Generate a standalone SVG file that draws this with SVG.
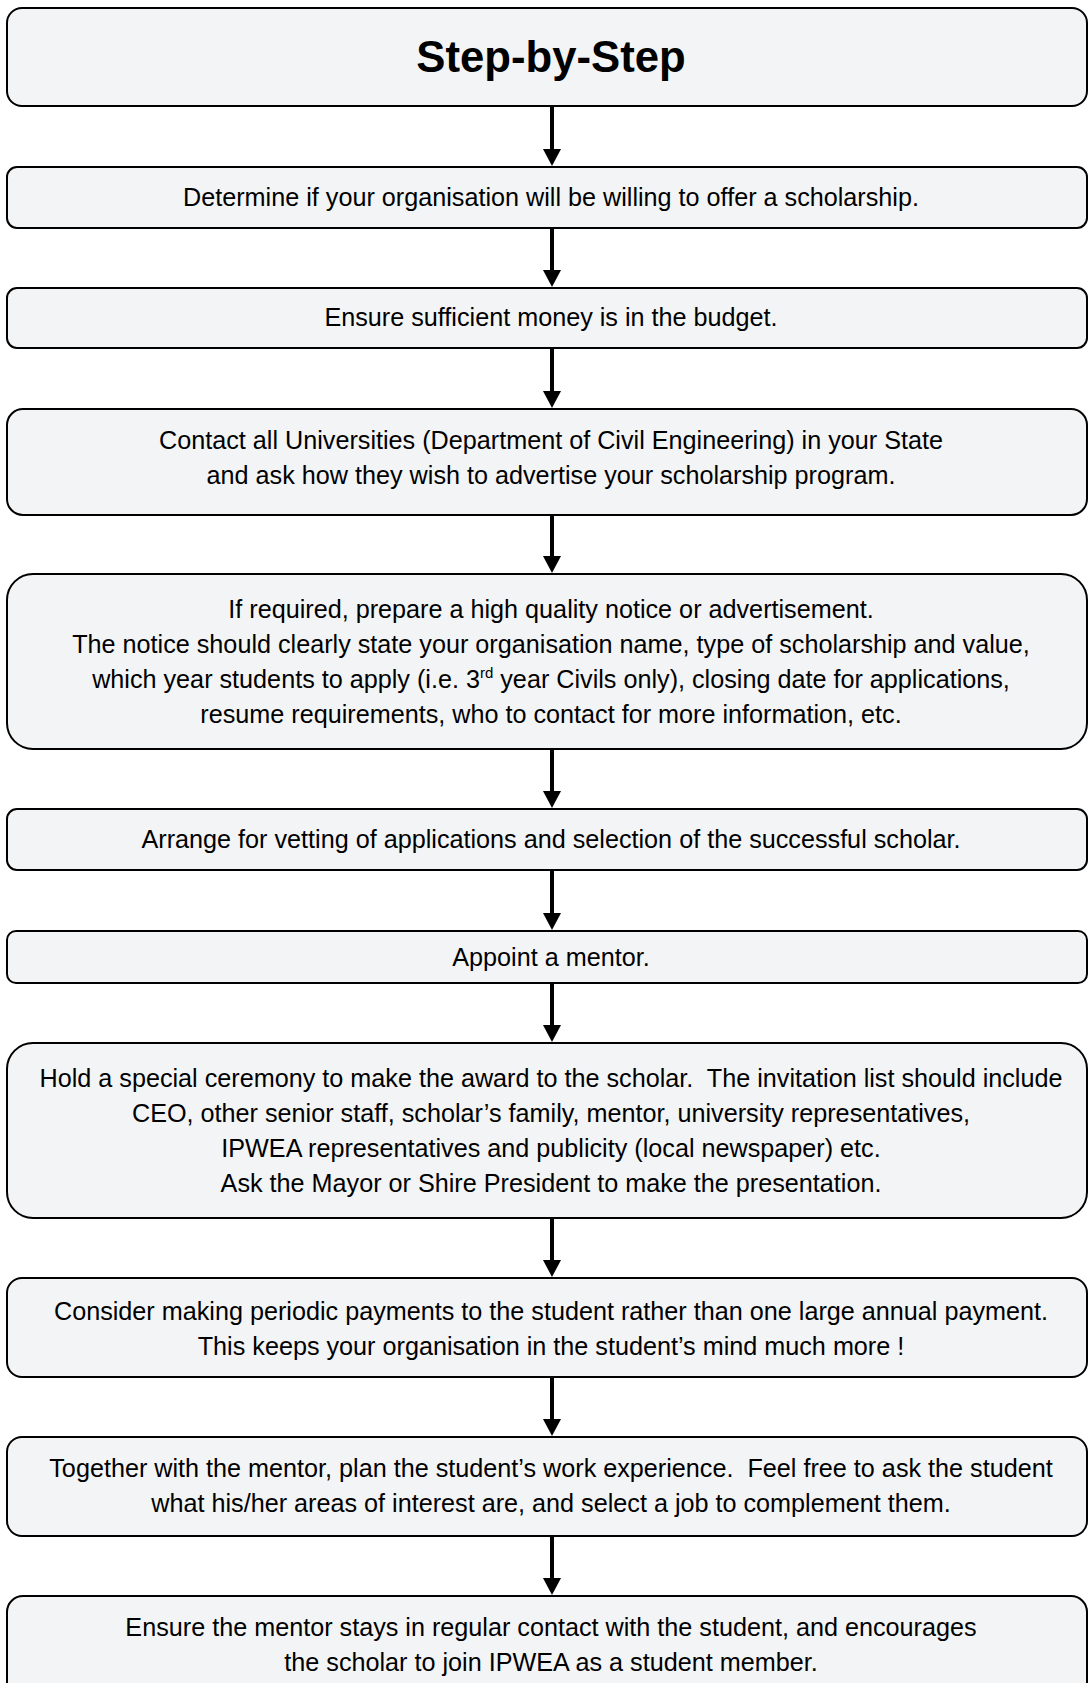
<svg xmlns="http://www.w3.org/2000/svg" width="1088" height="1683" viewBox="0 0 1088 1683">
<defs>
<style>
.box{fill:#f3f4f6;stroke:#000;stroke-width:2}
.t{font-family:"Liberation Sans",Arial,sans-serif;font-size:25.2px;fill:#000;text-anchor:middle}
.title{font-family:"Liberation Sans",Arial,sans-serif;font-size:43.7px;font-weight:bold;fill:#000;text-anchor:middle}
.conn line{stroke:#000;stroke-width:4}
.conn polygon{fill:#000}
</style>
</defs>
<rect x="0" y="0" width="1088" height="1683" fill="#fff"/>
<g id="n0"><rect class="box" x="7" y="8" width="1080" height="98" rx="15"/><text class="title" x="551" y="72">Step-by-Step</text></g>
<g id="n1"><rect class="box" x="7" y="167" width="1080" height="61" rx="10"/><text class="t" x="551" y="206">Determine if your organisation will be willing to offer a scholarship.</text></g>
<g id="n2"><rect class="box" x="7" y="288" width="1080" height="60" rx="10"/><text class="t" x="551" y="326">Ensure sufficient money is in the budget.</text></g>
<g id="n3"><rect class="box" x="7" y="409" width="1080" height="106" rx="16"/><text class="t" x="551" y="449">Contact all Universities (Department of Civil Engineering) in your State</text><text class="t" x="551" y="484">and ask how they wish to advertise your scholarship program.</text></g>
<g id="n4"><rect class="box" x="7" y="574" width="1080" height="175" rx="26"/><text class="t" x="551" y="618">If required, prepare a high quality notice or advertisement.</text><text class="t" x="551" y="653">The notice should clearly state your organisation name, type of scholarship and value,</text><text class="t" x="551" y="688">which year students to apply (i.e. 3<tspan font-size="15" dy="-10">rd</tspan><tspan dy="10"> year Civils only), closing date for applications,</tspan></text><text class="t" x="551" y="723">resume requirements, who to contact for more information, etc.</text></g>
<g id="n5"><rect class="box" x="7" y="809" width="1080" height="61" rx="10"/><text class="t" x="551" y="848">Arrange for vetting of applications and selection of the successful scholar.</text></g>
<g id="n6"><rect class="box" x="7" y="931" width="1080" height="52" rx="9"/><text class="t" x="551" y="966">Appoint a mentor.</text></g>
<g id="n7"><rect class="box" x="7" y="1043" width="1080" height="175" rx="26"/><text class="t" x="551" y="1087">Hold a special ceremony to make the award to the scholar.&#160; The invitation list should include</text><text class="t" x="551" y="1122">CEO, other senior staff, scholar’s family, mentor, university representatives,</text><text class="t" x="551" y="1157">IPWEA representatives and publicity (local newspaper) etc.</text><text class="t" x="551" y="1192">Ask the Mayor or Shire President to make the presentation.</text></g>
<g id="n8"><rect class="box" x="7" y="1278" width="1080" height="99" rx="15"/><text class="t" x="551" y="1320">Consider making periodic payments to the student rather than one large annual payment.</text><text class="t" x="551" y="1355">This keeps your organisation in the student’s mind much more !</text></g>
<g id="n9"><rect class="box" x="7" y="1437" width="1080" height="99" rx="15"/><text class="t" x="551" y="1477">Together with the mentor, plan the student’s work experience.&#160; Feel free to ask the student</text><text class="t" x="551" y="1512">what his/her areas of interest are, and select a job to complement them.</text></g>
<g id="n10"><rect class="box" x="7" y="1596" width="1080" height="106" rx="16"/><text class="t" x="551" y="1636">Ensure the mentor stays in regular contact with the student, and encourages</text><text class="t" x="551" y="1671">the scholar to join IPWEA as a student member.</text></g>
<g id="connectors" class="conn">
<line x1="552" y1="107" x2="552" y2="150"/><polygon points="543,149 561,149 552,166"/>
<line x1="552" y1="229" x2="552" y2="271"/><polygon points="543,270 561,270 552,287"/>
<line x1="552" y1="349" x2="552" y2="392"/><polygon points="543,391 561,391 552,408"/>
<line x1="552" y1="516" x2="552" y2="557"/><polygon points="543,556 561,556 552,573"/>
<line x1="552" y1="750" x2="552" y2="792"/><polygon points="543,791 561,791 552,808"/>
<line x1="552" y1="871" x2="552" y2="914"/><polygon points="543,913 561,913 552,930"/>
<line x1="552" y1="984" x2="552" y2="1026"/><polygon points="543,1025 561,1025 552,1042"/>
<line x1="552" y1="1219" x2="552" y2="1261"/><polygon points="543,1260 561,1260 552,1277"/>
<line x1="552" y1="1378" x2="552" y2="1420"/><polygon points="543,1419 561,1419 552,1436"/>
<line x1="552" y1="1537" x2="552" y2="1579"/><polygon points="543,1578 561,1578 552,1595"/>
</g>
</svg>
